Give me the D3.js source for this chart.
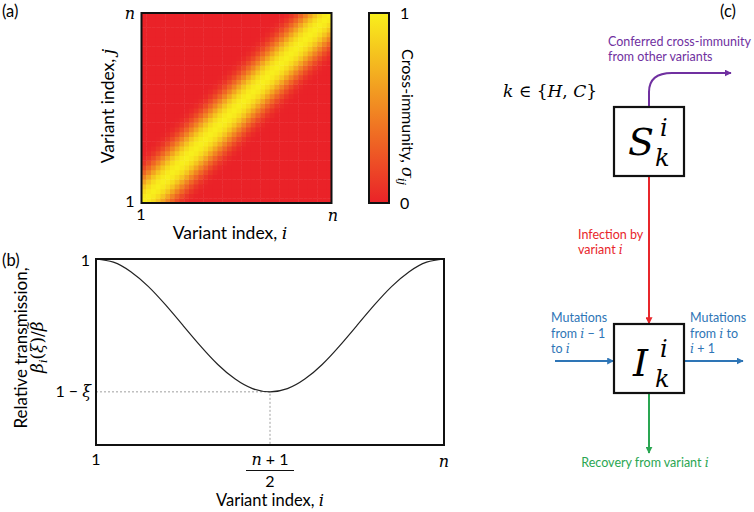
<!DOCTYPE html>
<html><head><meta charset="utf-8">
<script src="https://cdn.jsdelivr.net/npm/d3@7"></script>
<style>body{margin:0;background:#fff} svg{display:block}</style>
</head><body><svg id="fig" width="754" height="512"></svg>
<script>
// ---------- data ----------
const variants = d3.range(1, 41);                       // variant indices shown in heatmap (n = 40)
const crossImmunityByDistance = [1.0, 0.97, 0.9, 0.79, 0.64, 0.48, 0.33, 0.2, 0.1, 0.04, 0.01, 0];
const colorbarTicks = [0, 1];
const transIndex = [1, 3, 5, 7, 9, 11, 13, 15, 17, 19, 21, 23, 25, 27, 29, 31, 33, 35, 37, 39, 41];
const relTransmission = [1, 0.988, 0.952, 0.897, 0.827, 0.75, 0.673, 0.603, 0.548, 0.512, 0.5,
                         0.512, 0.548, 0.603, 0.673, 0.75, 0.827, 0.897, 0.952, 0.988, 1];
const xi = 0.5;
const nB = 41;

const svg = d3.select("#fig");
const SANS = "Lato, 'Open Sans', sans-serif";
const MATH = "'DejaVu Serif', serif";

function rich(sel, parts, size) {
  parts.forEach(p => {
    const t = sel.append("tspan").text(p.t)
      .attr("font-family", p.m ? MATH : SANS)
      .attr("font-style", p.i ? "italic" : "normal")
      .attr("font-size", p.s || size);
    if (p.dy) t.attr("dy", p.dy);
    if (p.dx) t.attr("dx", p.dx);
  });
  return sel;
}

// ---------- panel labels ----------
[["(a)", 2, 17], ["(b)", 2, 266], ["(c)", 720, 17]].forEach(([t, x, y]) =>
  svg.append("text").attr("x", x).attr("y", y).attr("font-family", SANS).attr("font-size", 16.5).text(t));

// ---------- panel (a): heatmap ----------
const hx = d3.scaleBand().domain(variants).range([141.5, 331.5]);
const hy = d3.scaleBand().domain(variants).range([203, 13]);
const color = d3.scaleLinear().domain([0, 1]).range(["#ea2228", "#f8ef1c"]).interpolate(d3.interpolateRgb);
const cells = [];
variants.forEach(i => variants.forEach(j => {
  const d = Math.abs(i - j);
  cells.push({i, j, v: d < crossImmunityByDistance.length ? crossImmunityByDistance[d] : 0});
}));
svg.append("g").selectAll("rect").data(cells).join("rect")
  .attr("x", d => hx(d.i)).attr("y", d => hy(d.j))
  .attr("width", hx.bandwidth() + 0.5).attr("height", hy.bandwidth() + 0.5)
  .attr("fill", d => color(d.v));
svg.append("rect").attr("x", 141.5).attr("y", 13).attr("width", 190).attr("height", 190)
  .attr("fill", "none").attr("stroke", "#111").attr("stroke-width", 2);

const tickA = [
  {t: "n", x: 130, y: 19, m: true, i: true},
  {t: "1", x: 130, y: 207},
  {t: "1", x: 141, y: 220},
  {t: "n", x: 333, y: 221, m: true, i: true}
];
tickA.forEach(d => svg.append("text").attr("x", d.x).attr("y", d.y).attr("text-anchor", "middle")
  .attr("font-family", d.m ? MATH : SANS).attr("font-style", d.i ? "italic" : "normal")
  .attr("font-size", 16).text(d.t));

rich(svg.append("text").attr("x", 230).attr("y", 239).attr("text-anchor", "middle"),
  [{t: "Variant index, "}, {t: "i", m: true, i: true}], 17.5);
rich(svg.append("text").attr("transform", "translate(114,106) rotate(-90)").attr("text-anchor", "middle"),
  [{t: "Variant index, "}, {t: "j", m: true, i: true}], 17.5);

// colorbar
const cb = d3.scaleLinear().domain([0, 1]).range([203, 13]);
const defs = svg.append("defs");
const lg = defs.append("linearGradient").attr("id", "cbg")
  .attr("x1", 0).attr("x2", 0).attr("y1", 1).attr("y2", 0);
d3.range(0, 1.0001, 0.1).forEach(v => lg.append("stop").attr("offset", v).attr("stop-color", color(v)));
svg.append("rect").attr("x", 369).attr("y", cb(1)).attr("width", 20).attr("height", cb(0) - cb(1))
  .attr("fill", "url(#cbg)").attr("stroke", "#111").attr("stroke-width", 2);
colorbarTicks.forEach(v => svg.append("text").attr("x", 400).attr("y", cb(v) + 6)
  .attr("font-family", SANS).attr("font-size", 16).text(v));
rich(svg.append("text").attr("transform", "translate(402,117) rotate(90)").attr("text-anchor", "middle"),
  [{t: "Cross-immunity, "}, {t: "σ", m: true, i: true}, {t: "ij", m: true, i: true, s: 11, dy: 4}], 16);

// ---------- panel (b): transmission ----------
const xB = d3.scaleLinear().domain([1, nB]).range([96, 444]);
const yB = d3.scaleLinear().domain([0.3, 1]).range([445, 259]);
const mid = (nB + 1) / 2;
svg.append("path").attr("d", `M${xB(1)},${yB(1 - xi)}H${xB(mid)}V${yB(0.3)}`)
  .attr("fill", "none").attr("stroke", "#888").attr("stroke-width", 0.8).attr("stroke-dasharray", "2,2");
svg.append("path").datum(transIndex.map((x, k) => [x, relTransmission[k]]))
  .attr("d", d3.line().x(d => xB(d[0])).y(d => yB(d[1])).curve(d3.curveNatural))
  .attr("fill", "none").attr("stroke", "#222").attr("stroke-width", 1.2);
svg.append("rect").attr("x", 96).attr("y", 259).attr("width", 348).attr("height", 186)
  .attr("fill", "none").attr("stroke", "#111").attr("stroke-width", 2);

svg.append("text").attr("x", 90).attr("y", yB(1) + 7).attr("text-anchor", "end")
  .attr("font-family", SANS).attr("font-size", 16).text("1");
rich(svg.append("text").attr("x", 91).attr("y", yB(1 - xi) + 5).attr("text-anchor", "end"),
  [{t: "1 − "}, {t: "ξ", m: true, i: true}], 16);
svg.append("text").attr("x", xB(1)).attr("y", 465).attr("text-anchor", "middle")
  .attr("font-family", SANS).attr("font-size", 16).text("1");
rich(svg.append("text").attr("x", xB(mid)).attr("y", 465).attr("text-anchor", "middle"),
  [{t: "n", m: true, i: true}, {t: " + 1"}], 16);
svg.append("line").attr("x1", xB(mid) - 24).attr("x2", xB(mid) + 24).attr("y1", 470.5).attr("y2", 470.5)
  .attr("stroke", "#111").attr("stroke-width", 1);
svg.append("text").attr("x", xB(mid)).attr("y", 487).attr("text-anchor", "middle")
  .attr("font-family", SANS).attr("font-size", 16).text("2");
svg.append("text").attr("x", xB(nB)).attr("y", 467).attr("text-anchor", "middle")
  .attr("font-family", MATH).attr("font-style", "italic").attr("font-size", 16).text("n");
rich(svg.append("text").attr("x", 270).attr("y", 506).attr("text-anchor", "middle"),
  [{t: "Variant index, "}, {t: "i", m: true, i: true}], 16.5);
rich(svg.append("text").attr("transform", "translate(27,348) rotate(-90)").attr("text-anchor", "middle"),
  [{t: "Relative transmission,"}], 17);
rich(svg.append("text").attr("transform", "translate(43,347) rotate(-90)").attr("text-anchor", "middle"),
  [{t: "β", m: true, i: true}, {t: "i", m: true, i: true, s: 11, dy: 4}, {t: "(", m: true, dy: -4},
   {t: "ξ", m: true, i: true}, {t: ")/", m: true}, {t: "β", m: true, i: true},
   {t: "~", m: true, s: 11, dx: -9, dy: -11}], 17);

// ---------- panel (c): diagram ----------
const cPurple = "#7030a0", cRed = "#e8262b", cBlue = "#2e75b6", cGreen = "#2aa652";
[["p", cPurple], ["r", cRed], ["b", cBlue], ["g", cGreen]].forEach(([id, c]) =>
  defs.append("marker").attr("id", "ar" + id).attr("viewBox", "0 0 10 10").attr("refX", 9).attr("refY", 5)
    .attr("markerWidth", 3.5).attr("markerHeight", 3.5).attr("orient", "auto")
    .append("path").attr("d", "M0,0L10,5L0,10z").attr("fill", c));

const cx = 649;
svg.append("path").attr("d", `M${cx},107 V92 Q${cx},73 672,73 H731`).attr("fill", "none")
  .attr("stroke", cPurple).attr("stroke-width", 2).attr("marker-end", "url(#arp)");
svg.append("line").attr("x1", cx).attr("x2", cx).attr("y1", 175).attr("y2", 323.5)
  .attr("stroke", cRed).attr("stroke-width", 2).attr("marker-end", "url(#arr)");
svg.append("line").attr("x1", 555).attr("x2", 613.5).attr("y1", 361).attr("y2", 361)
  .attr("stroke", cBlue).attr("stroke-width", 2).attr("marker-end", "url(#arb)");
svg.append("line").attr("x1", 684).attr("x2", 743).attr("y1", 361).attr("y2", 361)
  .attr("stroke", cBlue).attr("stroke-width", 2).attr("marker-end", "url(#arb)");
svg.append("line").attr("x1", cx).attr("x2", cx).attr("y1", 394).attr("y2", 453)
  .attr("stroke", cGreen).attr("stroke-width", 2).attr("marker-end", "url(#arg)");

[[107, "S", 155], [324, "I", 376]].forEach(([y0, L, base]) => {
  svg.append("rect").attr("x", 614).attr("y", y0).attr("width", 70).attr("height", 69)
    .attr("fill", "#fff").attr("stroke", "#111").attr("stroke-width", 2.2);
  svg.append("text").attr("x", L === "S" ? 628 : 633).attr("y", base).attr("font-family", MATH)
    .attr("font-style", "italic").attr("font-size", 38).text(L);
  svg.append("text").attr("x", 660).attr("y", base - 19).attr("font-family", MATH)
    .attr("font-style", "italic").attr("font-size", 24).text("i");
  svg.append("text").attr("x", 655).attr("y", base + 11).attr("font-family", MATH)
    .attr("font-style", "italic").attr("font-size", 24).text("k");
});

rich(svg.append("text").attr("x", 597).attr("y", 97).attr("text-anchor", "end"),
  [{t: "k", m: true, i: true}, {t: " ∈ {", m: true}, {t: "H", m: true, i: true}, {t: ", ", m: true},
   {t: "C", m: true, i: true}, {t: "}", m: true}], 17);

const small = 12.5;
function lines(x, ys, arr, c, anchor) {
  arr.forEach((parts, k) => rich(svg.append("text").attr("x", x).attr("y", ys[k]).attr("fill", c)
    .attr("text-anchor", anchor || "start"), parts, small));
}
lines(608, [46, 61], [[{t: "Conferred cross-immunity"}], [{t: "from other variants"}]], cPurple);
lines(578, [239, 254], [[{t: "Infection by"}], [{t: "variant "}, {t: "i", m: true, i: true}]], cRed);
lines(551, [322, 338, 353], [[{t: "Mutations"}], [{t: "from "}, {t: "i", m: true, i: true}, {t: " − 1"}],
  [{t: "to "}, {t: "i", m: true, i: true}]], cBlue);
lines(690, [322, 338, 353], [[{t: "Mutations"}], [{t: "from "}, {t: "i", m: true, i: true}, {t: " to"}],
  [{t: "i", m: true, i: true}, {t: " + 1"}]], cBlue);
lines(645, [467], [[{t: "Recovery from variant "}, {t: "i", m: true, i: true}]], cGreen, "middle");
</script></body></html>
